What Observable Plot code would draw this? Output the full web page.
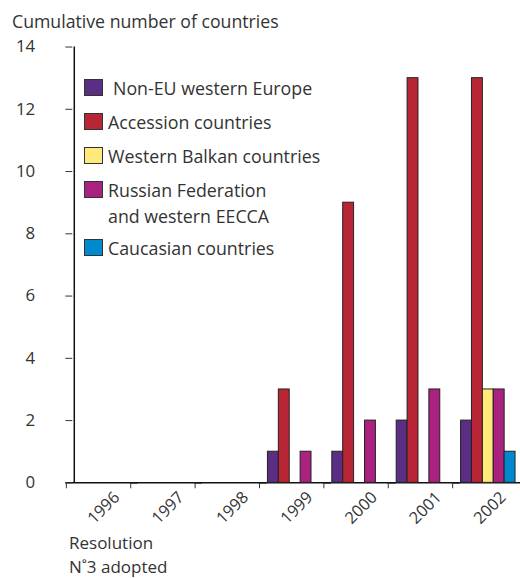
<!DOCTYPE html>
<html>
<head>
<meta charset="utf-8">
<script src="https://cdn.jsdelivr.net/npm/d3@7"></script>
<script src="https://cdn.jsdelivr.net/npm/@observablehq/plot@0.6"></script>
<style>
  html, body { margin: 0; padding: 0; background: #fff; overflow: hidden; }
  #wrap { position: relative; width: 520px; height: 578px; overflow: hidden; font-family: "Open Sans", sans-serif; color: #333; }
  #title { position: absolute; left: 12px; top: 9px; font-size: 17.7px; white-space: nowrap; }
  #note { position: absolute; left: 69px; top: 534px; font-size: 17px; line-height: 17px; white-space: nowrap; }
  #note div { height: 17px; }
  #note div + div { margin-top: 7px; }
  #legend { position: absolute; left: 84px; top: 76px; font-size: 17.8px; z-index: 2; }
  .item { position: relative; height: 34px; white-space: nowrap; }
  .item.two { height: 58px; }
  .item.first .lab { left: 29px; }
  .sw { position: absolute; left: 0; top: 3px; width: 17px; height: 15px; border: 1px solid #333; }
  .lab { position: absolute; left: 24px; top: -1px; line-height: 26px; }
  svg { position: absolute; left: 0; top: 0; }
</style>
</head>
<body>
<div id="wrap">
  <div id="title"></div>
  <div id="legend"></div>
  <div id="note"></div>
</div>
<script>
const titleText = "Cumulative number of countries";
const noteLines = ["Resolution", "N˚3 adopted"];
const years = ["1996", "1997", "1998", "1999", "2000", "2001", "2002"];
const categories = ["Non-EU western Europe", "Accession countries", "Western Balkan countries", "Russian Federation and western EECCA", "Caucasian countries"];
const legendLines = [["Non-EU western Europe"], ["Accession countries"], ["Western Balkan countries"], ["Russian Federation", "and western EECCA"], ["Caucasian countries"]];
const colors = ["#5a2e82", "#b82535", "#ffe97a", "#a92280", "#0089cc"];
const nonEU      = [0, 0, 0, 1, 1, 2, 2];
const accession  = [0, 0, 0, 3, 9, 13, 13];
const balkan     = [0, 0, 0, 0, 0, 0, 3];
const russian    = [0, 0, 0, 1, 2, 3, 3];
const caucasian  = [0, 0, 0, 0, 0, 0, 1];
const yTicks = [0, 2, 4, 6, 8, 10, 12, 14];

const series = [nonEU, accession, balkan, russian, caucasian];
const data = [];
years.forEach((y, i) => series.forEach((s, k) => data.push({year: y, cat: categories[k], value: s[i]})));

document.getElementById("title").textContent = titleText;
document.getElementById("note").innerHTML = noteLines.map(t => `<div>${t}</div>`).join("");
const leg = document.getElementById("legend");
legendLines.forEach((lines, k) => {
  const d = document.createElement("div");
  d.className = "item" + (lines.length > 1 ? " two" : "") + (k === 0 ? " first" : "");
  d.innerHTML = `<div class="sw" style="background:${colors[k]}"></div><div class="lab">${lines.join("<br>")}</div>`;
  leg.appendChild(d);
});

const chart = Plot.plot({
  width: 525,
  height: 578,
  marginLeft: 70,
  marginRight: 0,
  marginTop: 47,
  marginBottom: 91,
  style: {fontFamily: "Open Sans, sans-serif", fontSize: "17px", color: "#333", background: "transparent", overflow: "visible"},
  fx: {domain: years, paddingInner: 0.087, paddingOuter: 0, label: null, axis: null},
  x: {domain: categories, paddingInner: 0, paddingOuter: 0, axis: null},
  y: {domain: [0, 14], label: null, axis: null},
  color: {domain: categories, range: colors},
  marks: [
    // baseline per facet, bridged across the gaps between groups
    Plot.ruleY(years, {fx: d => d, y: () => 0, stroke: "#111", strokeWidth: 1.5, insetLeft: -7, insetRight: -7}),
    Plot.barY(data.filter(d => d.value > 0), {fx: "year", x: "cat", y: "value", fill: "cat", stroke: "#222", strokeWidth: 1}),
    // y axis line at the left of the first group
    Plot.ruleX([years[0]], {fx: d => d, x: () => categories[0], y1: 0, y2: 14, dx: -6, stroke: "#111", strokeWidth: 1.5}),
    Plot.axisY({ticks: yTicks, tickSize: 7, tickPadding: 31, label: null, fontSize: 17, facetAnchor: "left"}),
    Plot.axisFx({anchor: "bottom", tickSize: 6, text: null, dx: -36, label: null}),
    Plot.axisFx({anchor: "bottom", tickSize: 0, tickRotate: -45, tickPadding: 4, dx: 15, dy: 8, label: null, fontSize: 16.5})
  ]
});
document.getElementById("wrap").appendChild(chart);
</script>
</body>
</html>
